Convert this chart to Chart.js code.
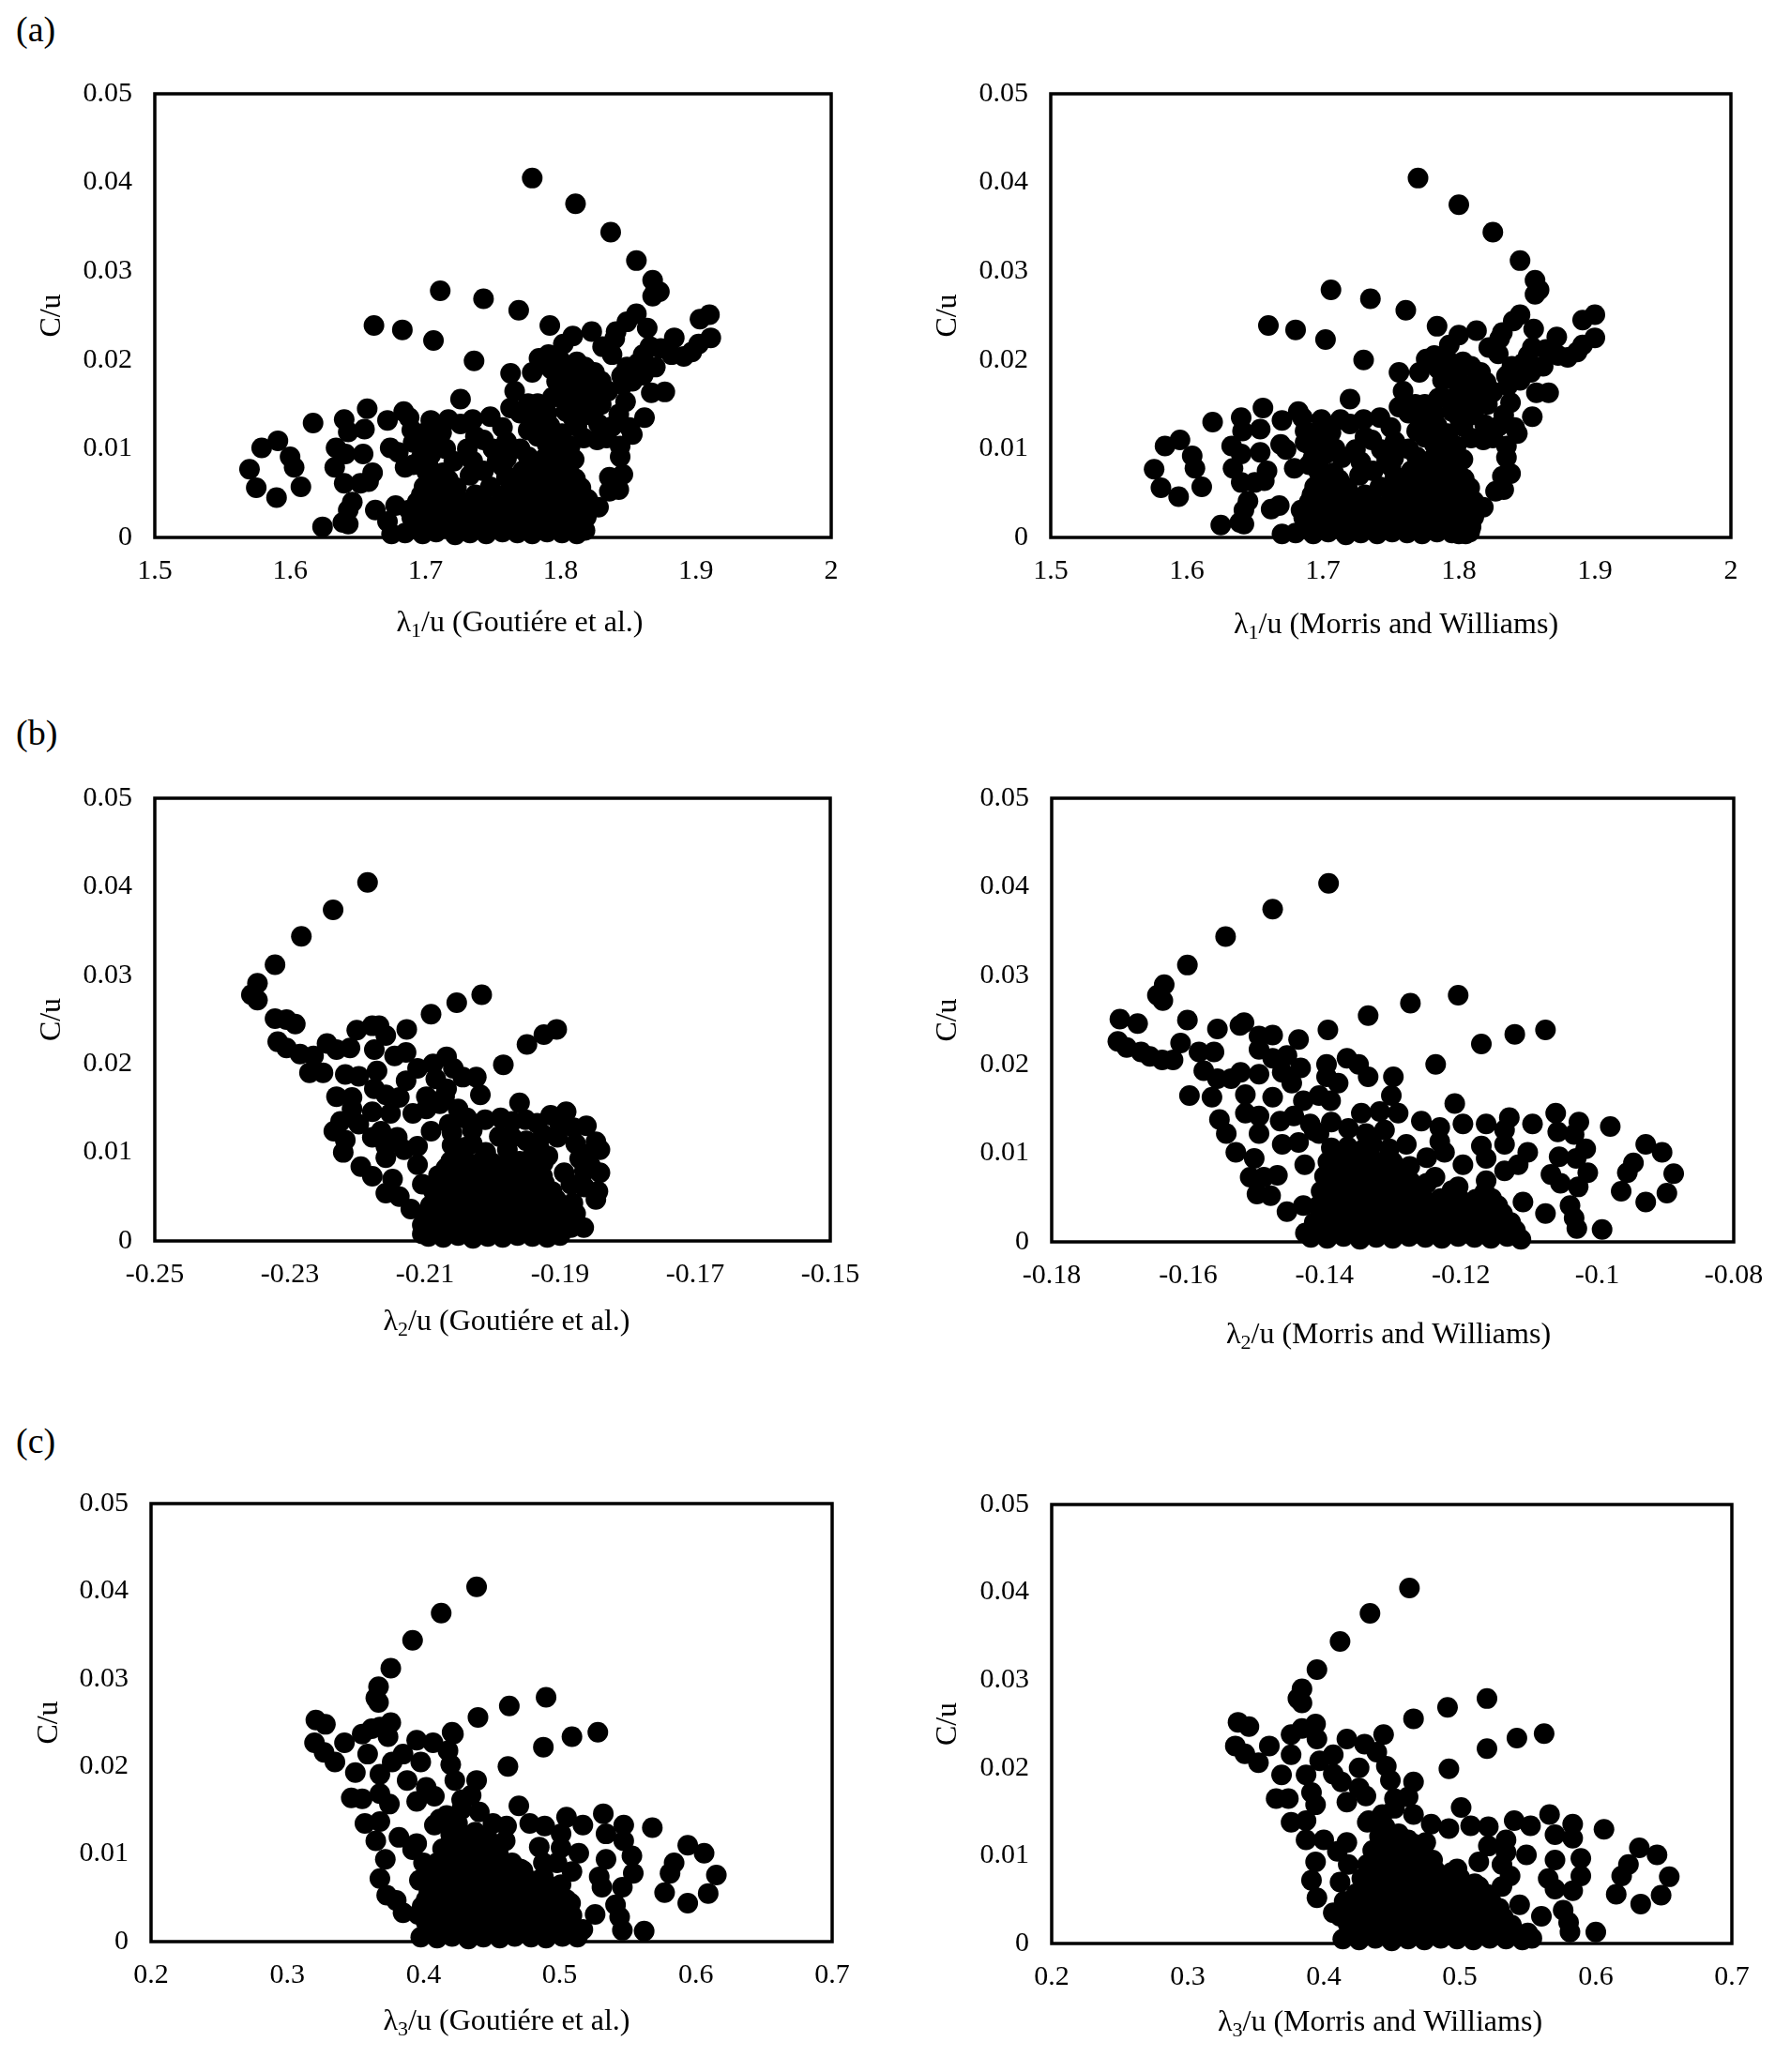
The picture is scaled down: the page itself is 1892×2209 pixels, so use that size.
<!DOCTYPE html>
<html>
<head>
<meta charset="utf-8">
<script src="https://cdn.jsdelivr.net/npm/chart.js@4.4.1/dist/chart.umd.min.js"></script>
<style>
  body { margin: 0; background: #fff; }
  #page { position: relative; width: 1892px; height: 2209px; background: #fff; overflow: hidden;
          font-family: "Liberation Serif", "Times New Roman", serif; }
  .panel-label { position: absolute; left: 17px; font-size: 38px; line-height: 38px; color: #000; }
  canvas { position: absolute; }
</style>
</head>
<body>
<div id="page">
  <div class="panel-label" style="top:12px;">(a)</div>
  <div class="panel-label" style="top:762px;">(b)</div>
  <div class="panel-label" style="top:1517px;">(c)</div>
  <canvas id="chartA1"></canvas>
  <canvas id="chartA2"></canvas>
  <canvas id="chartB1"></canvas>
  <canvas id="chartB2"></canvas>
  <canvas id="chartC1"></canvas>
  <canvas id="chartC2"></canvas>
</div>
<script>
// tick values and labels
var yTicks = [0, 0.01, 0.02, 0.03, 0.04, 0.05];
var yTickLabels = ['0', '0.01', '0.02', '0.03', '0.04', '0.05'];
var xTicksL1 = [1.5, 1.6, 1.7, 1.8, 1.9, 2];
var xTickLabelsL1 = ['1.5', '1.6', '1.7', '1.8', '1.9', '2'];
var xTicksL2Goutiere = [-0.25, -0.23, -0.21, -0.19, -0.17, -0.15];
var xTickLabelsL2Goutiere = ['-0.25', '-0.23', '-0.21', '-0.19', '-0.17', '-0.15'];
var xTicksL2Morris = [-0.18, -0.16, -0.14, -0.12, -0.1, -0.08];
var xTickLabelsL2Morris = ['-0.18', '-0.16', '-0.14', '-0.12', '-0.1', '-0.08'];
var xTicksL3 = [0.2, 0.3, 0.4, 0.5, 0.6, 0.7];
var xTickLabelsL3 = ['0.2', '0.3', '0.4', '0.5', '0.6', '0.7'];

// [lambda/u, C/u]
var goutiereL1 = [
  [1.779,0.0405],[1.811,0.0376],[1.837,0.0344],[1.856,0.0312],[1.868,0.0290],[1.870,0.0278],[1.868,0.0272],[1.873,0.0277],
  [1.711,0.0278],[1.743,0.0269],[1.769,0.0256],[1.792,0.0239],[1.662,0.0239],[1.683,0.0234],[1.706,0.0222],[1.736,0.0199],
  [1.726,0.0156],[1.763,0.0185],[1.779,0.0186],[1.766,0.0165],
  [1.856,0.0252],[1.849,0.0243],[1.864,0.0236],[1.903,0.0246],[1.910,0.0251],[1.911,0.0225],[1.902,0.0218],[1.897,0.0209],
  [1.891,0.0204],[1.884,0.0225],[1.882,0.0206],[1.874,0.0213],[1.866,0.0215],[1.861,0.0206],
  [1.802,0.0218],[1.809,0.0227],[1.823,0.0232],[1.841,0.0232],[1.831,0.0215],[1.838,0.0206],[1.791,0.0206],[1.784,0.0202],
  [1.800,0.0199],[1.818,0.0192],[1.825,0.0186],[1.822,0.0176],[1.830,0.0176],[1.849,0.0192],[1.870,0.0192],[1.861,0.0183],
  [1.853,0.0176],[1.797,0.0176],[1.801,0.0186],[1.805,0.0170],[1.835,0.0165],[1.846,0.0172],[1.867,0.0163],[1.877,0.0164],
  [1.848,0.0153],[1.843,0.0139],[1.851,0.0124],[1.853,0.0116],[1.844,0.0103],[1.844,0.0091],[1.862,0.0135],
  [1.763,0.0146],[1.776,0.0151],[1.783,0.0151],[1.794,0.0158],[1.802,0.0156],[1.804,0.0142],[1.809,0.0135],[1.822,0.0146],
  [1.828,0.0128],[1.827,0.0110],[1.817,0.0112],[1.779,0.0132],[1.776,0.0121],[1.783,0.0114],[1.792,0.0126],[1.801,0.0117],
  [1.807,0.0103],[1.799,0.0096],
  [1.790,0.0105],[1.800,0.0112],[1.812,0.0125],[1.818,0.0138],[1.823,0.0160],[1.812,0.0168],[1.815,0.0152],[1.830,0.0150],
  [1.838,0.0125],[1.834,0.0112],[1.790,0.0140],[1.770,0.0140],[1.760,0.0108],[1.770,0.0100],[1.812,0.0198],[1.793,0.0190],
  [1.808,0.0182],[1.845,0.0182],[1.857,0.0196],[1.840,0.0224],
  [1.617,0.0129],[1.640,0.0133],[1.643,0.0119],[1.657,0.0145],[1.655,0.0122],[1.672,0.0132],[1.684,0.0142],[1.688,0.0135],
  [1.690,0.0121],[1.691,0.0107],[1.704,0.0132],[1.717,0.0133],[1.726,0.0128],[1.735,0.0133],[1.737,0.0114],[1.748,0.0136],
  [1.757,0.0124],[1.731,0.0100],[1.735,0.0086],[1.750,0.0100],[1.753,0.0086],[1.760,0.0089],[1.709,0.0107],[1.704,0.0093],
  [1.721,0.0086],[1.691,0.0082],[1.685,0.0079],[1.680,0.0096],[1.674,0.0101],
  [1.695,0.0105],[1.715,0.0100],[1.712,0.0118],[1.700,0.0118],[1.743,0.0110],[1.757,0.0080],[1.743,0.0075],[1.733,0.0070],[1.760,0.0068],
  [1.579,0.0101],[1.591,0.0109],[1.600,0.0091],[1.603,0.0079],[1.608,0.0057],[1.590,0.0045],[1.575,0.0056],[1.570,0.0077],
  [1.634,0.0101],[1.641,0.0094],[1.633,0.0079],[1.654,0.0094],[1.661,0.0073],[1.658,0.0063],[1.652,0.0061],[1.640,0.0061],
  [1.646,0.0040],[1.643,0.0031],[1.643,0.0015],[1.639,0.0017],[1.624,0.0012],[1.663,0.0031],
  [1.685,0.0005],[1.698,0.0004],[1.708,0.0006],[1.722,0.0003],[1.733,0.0005],[1.745,0.0004],[1.757,0.0006],[1.768,0.0005],
  [1.779,0.0004],[1.790,0.0006],[1.801,0.0005],[1.812,0.0004],
  [1.692,0.0013],[1.703,0.0013],[1.715,0.0012],[1.728,0.0014],[1.739,0.0013],[1.751,0.0012],[1.762,0.0014],[1.773,0.0013],
  [1.785,0.0012],[1.796,0.0014],[1.807,0.0013],[1.816,0.0012],
  [1.690,0.0022],[1.703,0.0021],[1.714,0.0023],[1.727,0.0022],[1.739,0.0020],[1.751,0.0023],[1.762,0.0022],[1.774,0.0021],
  [1.786,0.0023],[1.797,0.0022],[1.808,0.0021],[1.819,0.0023],
  [1.688,0.0031],[1.700,0.0030],[1.711,0.0032],[1.724,0.0031],[1.737,0.0030],[1.750,0.0032],[1.760,0.0031],[1.772,0.0030],
  [1.783,0.0032],[1.795,0.0031],[1.806,0.0030],[1.816,0.0032],
  [1.694,0.0040],[1.706,0.0039],[1.717,0.0041],[1.731,0.0040],[1.744,0.0038],[1.756,0.0041],[1.766,0.0040],[1.778,0.0039],
  [1.789,0.0041],[1.800,0.0040],[1.811,0.0039],
  [1.697,0.0048],[1.709,0.0049],[1.720,0.0047],[1.737,0.0048],[1.760,0.0049],[1.772,0.0047],[1.784,0.0048],[1.795,0.0049],
  [1.806,0.0047],[1.814,0.0048],
  [1.699,0.0057],[1.711,0.0058],[1.723,0.0056],[1.748,0.0057],[1.769,0.0058],[1.781,0.0056],[1.793,0.0057],[1.804,0.0058],[1.815,0.0056],
  [1.705,0.0066],[1.717,0.0065],[1.766,0.0067],[1.778,0.0066],[1.790,0.0065],[1.801,0.0067],[1.811,0.0066],
  [1.701,0.0074],[1.713,0.0073],[1.772,0.0075],[1.784,0.0074],[1.795,0.0073],[1.806,0.0075],
  [1.702,0.0082],[1.780,0.0083],[1.793,0.0081],[1.804,0.0082],
  [1.697,0.0090],[1.776,0.0091],[1.788,0.0089],[1.799,0.0090],[1.810,0.0088],
  [1.675,0.0004],[1.678,0.0036],[1.672,0.0018],[1.836,0.0068],[1.846,0.0071],[1.836,0.0052],[1.843,0.0054],[1.828,0.0034],
  [1.820,0.0043],[1.818,0.0008]
];

var morrisL1 = [
  [1.770,0.0405],[1.800,0.0375],[1.825,0.0344],[1.845,0.0312],[1.856,0.0290],[1.859,0.0279],[1.856,0.0274],
  [1.706,0.0279],[1.735,0.0269],[1.761,0.0256],[1.784,0.0238],[1.660,0.0239],[1.680,0.0234],[1.702,0.0223],[1.730,0.0200],
  [1.720,0.0156],[1.756,0.0186],[1.771,0.0186],[1.759,0.0165],
  [1.845,0.0251],[1.840,0.0244],[1.855,0.0235],[1.891,0.0245],[1.900,0.0251],[1.900,0.0225],[1.891,0.0217],[1.887,0.0209],
  [1.880,0.0203],[1.872,0.0226],[1.873,0.0205],[1.864,0.0212],[1.854,0.0214],[1.851,0.0205],
  [1.793,0.0217],[1.800,0.0228],[1.813,0.0233],[1.832,0.0231],[1.822,0.0214],[1.829,0.0207],[1.782,0.0205],[1.776,0.0201],
  [1.793,0.0198],[1.809,0.0193],[1.816,0.0186],[1.812,0.0175],[1.820,0.0175],[1.839,0.0193],[1.862,0.0193],[1.853,0.0186],
  [1.845,0.0177],[1.788,0.0177],[1.792,0.0187],[1.800,0.0170],[1.825,0.0164],[1.836,0.0171],[1.857,0.0163],[1.866,0.0163],
  [1.838,0.0152],[1.833,0.0138],[1.841,0.0124],[1.843,0.0117],[1.835,0.0103],[1.835,0.0090],[1.854,0.0136],
  [1.756,0.0147],[1.768,0.0150],[1.775,0.0150],[1.785,0.0157],[1.793,0.0156],[1.795,0.0142],[1.800,0.0135],[1.812,0.0145],
  [1.819,0.0127],[1.818,0.0110],[1.809,0.0112],[1.772,0.0133],[1.769,0.0120],[1.775,0.0113],[1.784,0.0126],[1.792,0.0117],
  [1.798,0.0103],[1.790,0.0096],
  [1.782,0.0105],[1.792,0.0112],[1.803,0.0125],[1.809,0.0138],[1.814,0.0160],[1.803,0.0168],[1.806,0.0152],[1.821,0.0150],
  [1.829,0.0125],[1.825,0.0112],[1.782,0.0140],[1.763,0.0140],[1.753,0.0108],[1.763,0.0100],[1.803,0.0198],[1.785,0.0190],
  [1.799,0.0182],[1.835,0.0182],[1.847,0.0196],[1.830,0.0224],
  [1.619,0.0130],[1.640,0.0135],[1.641,0.0120],[1.656,0.0146],[1.654,0.0122],[1.670,0.0132],[1.682,0.0142],[1.685,0.0135],
  [1.687,0.0120],[1.687,0.0107],[1.699,0.0133],[1.713,0.0133],[1.720,0.0128],[1.730,0.0133],[1.731,0.0113],[1.742,0.0135],
  [1.750,0.0124],[1.724,0.0099],[1.728,0.0085],[1.743,0.0099],[1.747,0.0087],[1.752,0.0089],[1.703,0.0108],[1.702,0.0094],
  [1.714,0.0090],[1.690,0.0082],[1.679,0.0078],[1.673,0.0099],[1.669,0.0105],
  [1.690,0.0105],[1.709,0.0100],[1.706,0.0118],[1.695,0.0118],[1.736,0.0110],[1.750,0.0080],[1.737,0.0075],[1.727,0.0070],[1.753,0.0068],
  [1.584,0.0103],[1.595,0.0110],[1.604,0.0092],[1.606,0.0078],[1.611,0.0057],[1.594,0.0046],[1.581,0.0056],[1.576,0.0077],
  [1.633,0.0103],[1.640,0.0094],[1.634,0.0078],[1.654,0.0096],[1.659,0.0075],[1.657,0.0064],[1.650,0.0062],[1.640,0.0062],
  [1.645,0.0041],[1.642,0.0031],[1.642,0.0015],[1.639,0.0017],[1.625,0.0014],[1.662,0.0032],
  [1.680,0.0005],[1.693,0.0004],[1.704,0.0006],[1.717,0.0003],[1.728,0.0005],[1.740,0.0004],[1.751,0.0006],[1.762,0.0005],
  [1.773,0.0004],[1.784,0.0006],[1.795,0.0005],[1.805,0.0004],
  [1.687,0.0013],[1.698,0.0013],[1.710,0.0012],[1.722,0.0014],[1.734,0.0013],[1.745,0.0012],[1.756,0.0014],[1.767,0.0013],
  [1.778,0.0012],[1.789,0.0014],[1.800,0.0013],[1.809,0.0012],
  [1.686,0.0022],[1.698,0.0021],[1.709,0.0023],[1.721,0.0022],[1.733,0.0020],[1.745,0.0023],[1.756,0.0022],[1.767,0.0021],
  [1.778,0.0023],[1.789,0.0022],[1.800,0.0021],[1.811,0.0023],
  [1.684,0.0031],[1.695,0.0030],[1.706,0.0032],[1.719,0.0031],[1.731,0.0030],[1.744,0.0032],[1.755,0.0031],[1.766,0.0030],
  [1.777,0.0032],[1.788,0.0031],[1.799,0.0030],[1.809,0.0032],
  [1.690,0.0040],[1.701,0.0039],[1.712,0.0041],[1.725,0.0040],[1.738,0.0038],[1.750,0.0041],[1.760,0.0040],[1.771,0.0039],
  [1.782,0.0041],[1.793,0.0040],[1.804,0.0039],
  [1.692,0.0048],[1.704,0.0049],[1.715,0.0047],[1.731,0.0048],[1.752,0.0049],[1.764,0.0047],[1.776,0.0048],[1.787,0.0049],
  [1.798,0.0047],[1.806,0.0048],
  [1.694,0.0057],[1.706,0.0058],[1.718,0.0056],[1.742,0.0057],[1.762,0.0058],[1.774,0.0056],[1.786,0.0057],[1.797,0.0058],[1.808,0.0056],
  [1.700,0.0066],[1.712,0.0065],[1.759,0.0067],[1.771,0.0066],[1.783,0.0065],[1.794,0.0067],[1.804,0.0066],
  [1.697,0.0074],[1.708,0.0073],[1.765,0.0075],[1.777,0.0074],[1.788,0.0073],[1.799,0.0075],
  [1.697,0.0082],[1.773,0.0083],[1.786,0.0081],[1.797,0.0082],
  [1.693,0.0090],[1.769,0.0091],[1.781,0.0089],[1.792,0.0090],[1.803,0.0088],
  [1.670,0.0004],[1.668,0.0036],[1.832,0.0069],[1.838,0.0072],[1.827,0.0052],[1.833,0.0054],[1.818,0.0034],[1.811,0.0041],
  [1.808,0.0006],[1.800,0.0004]
];

var goutiereL2 = [
  [-0.2185,0.0405],[-0.2236,0.0374],[-0.2283,0.0344],[-0.2322,0.0312],[-0.2348,0.0291],[-0.2357,0.0278],[-0.2348,0.0272],
  [-0.2016,0.0278],[-0.2053,0.0269],[-0.2091,0.0256],[-0.2127,0.0239],[-0.1905,0.0239],[-0.1924,0.0233],[-0.1949,0.0222],
  [-0.1984,0.0199],[-0.1960,0.0156],
  [-0.2322,0.0251],[-0.2305,0.0250],[-0.2292,0.0245],[-0.2318,0.0225],[-0.2305,0.0218],[-0.2285,0.0211],[-0.2265,0.0209],
  [-0.2245,0.0223],[-0.2231,0.0216],[-0.2211,0.0218],[-0.2201,0.0238],[-0.2178,0.0243],[-0.2168,0.0243],[-0.2158,0.0232],
  [-0.2175,0.0216],[-0.2145,0.0209],[-0.2128,0.0213],[-0.2271,0.0190],[-0.2251,0.0190],[-0.2218,0.0188],[-0.2198,0.0186],
  [-0.2171,0.0192],[-0.2111,0.0195],[-0.2088,0.0200],[-0.2068,0.0208],[-0.2058,0.0195],[-0.2044,0.0185],[-0.2024,0.0185],
  [-0.2128,0.0181],[-0.2084,0.0183],[-0.2068,0.0172],
  [-0.2231,0.0163],[-0.2208,0.0162],[-0.2175,0.0172],[-0.2158,0.0165],[-0.2138,0.0162],[-0.2098,0.0163],[-0.2071,0.0163],
  [-0.2018,0.0165],[-0.2208,0.0149],[-0.2178,0.0146],[-0.2151,0.0144],[-0.2118,0.0144],[-0.2098,0.0149],[-0.2078,0.0155],
  [-0.2051,0.0149],[-0.2038,0.0139],[-0.2011,0.0137],[-0.2225,0.0135],[-0.2198,0.0132],[-0.2235,0.0124],[-0.2218,0.0114],
  [-0.2221,0.0100],[-0.2178,0.0117],[-0.2165,0.0124],[-0.2141,0.0117],[-0.2158,0.0107],[-0.2131,0.0103],[-0.2111,0.0107],
  [-0.2091,0.0124],[-0.2064,0.0132],[-0.2044,0.0139],
  [-0.1988,0.0139],[-0.1971,0.0135],[-0.1951,0.0137],[-0.1934,0.0133],[-0.1914,0.0142],[-0.1891,0.0146],[-0.1861,0.0130],
  [-0.1847,0.0112],[-0.1841,0.0103],[-0.1841,0.0077],[-0.1844,0.0056],[-0.1847,0.0047],[-0.1864,0.0061],[-0.1881,0.0043],
  [-0.1877,0.0031],[-0.1865,0.0015],[-0.1884,0.0015],[-0.1894,0.0077],[-0.1884,0.0064],[-0.1904,0.0117],[-0.1877,0.0110],
  [-0.1931,0.0105],[-0.1944,0.0093],[-0.1918,0.0096],[-0.1871,0.0093],[-0.1864,0.0079],[-0.1971,0.0117],[-0.1978,0.0103],
  [-0.2050,0.0100],[-0.2030,0.0110],[-0.2010,0.0100],[-0.2060,0.0122],[-0.2030,0.0125],[-0.1990,0.0118],[-0.1950,0.0113],
  [-0.1925,0.0120],[-0.1900,0.0130],[-0.1880,0.0128],[-0.1860,0.0098],[-0.1855,0.0085],[-0.2000,0.0088],[-0.1975,0.0090],
  [-0.1925,0.0088],
  [-0.2195,0.0084],[-0.2178,0.0073],[-0.2158,0.0094],[-0.2148,0.0070],[-0.2158,0.0054],[-0.2138,0.0050],[-0.2121,0.0036],
  [-0.2111,0.0086],[-0.2104,0.0064],[-0.2104,0.0018],[-0.2104,0.0008],
  [-0.2095,0.0005],[-0.2073,0.0004],[-0.2051,0.0006],[-0.2029,0.0003],[-0.2007,0.0005],[-0.1985,0.0004],[-0.1963,0.0006],
  [-0.1941,0.0005],[-0.1919,0.0004],[-0.1900,0.0006],
  [-0.2090,0.0013],[-0.2068,0.0014],[-0.2046,0.0012],[-0.2024,0.0013],[-0.2002,0.0014],[-0.1980,0.0012],[-0.1958,0.0013],
  [-0.1936,0.0014],[-0.1914,0.0012],
  [-0.2100,0.0022],[-0.2078,0.0021],[-0.2056,0.0023],[-0.2034,0.0022],[-0.2012,0.0020],[-0.1990,0.0023],[-0.1968,0.0022],
  [-0.1946,0.0021],[-0.1924,0.0023],[-0.1905,0.0022],
  [-0.2096,0.0031],[-0.2074,0.0030],[-0.2052,0.0032],[-0.2030,0.0031],[-0.2008,0.0030],[-0.1986,0.0032],[-0.1964,0.0031],
  [-0.1942,0.0030],[-0.1920,0.0032],[-0.1900,0.0031],
  [-0.2092,0.0040],[-0.2070,0.0039],[-0.2048,0.0041],[-0.2026,0.0040],[-0.2004,0.0038],[-0.1982,0.0041],[-0.1960,0.0040],
  [-0.1938,0.0039],[-0.1916,0.0041],
  [-0.2081,0.0048],[-0.2059,0.0049],[-0.2037,0.0047],[-0.2015,0.0048],[-0.1993,0.0049],[-0.1971,0.0047],[-0.1949,0.0048],
  [-0.1927,0.0049],[-0.1906,0.0047],
  [-0.2088,0.0057],[-0.2066,0.0058],[-0.2044,0.0056],[-0.2022,0.0057],[-0.2000,0.0058],[-0.1978,0.0056],[-0.1956,0.0057],
  [-0.1934,0.0058],[-0.1912,0.0056],
  [-0.2077,0.0066],[-0.2055,0.0065],[-0.2033,0.0067],[-0.2011,0.0066],[-0.1989,0.0065],[-0.1967,0.0067],[-0.1945,0.0066],[-0.1923,0.0065],
  [-0.2080,0.0074],[-0.2058,0.0073],[-0.2036,0.0075],[-0.2014,0.0074],[-0.1992,0.0073],[-0.1970,0.0075],[-0.1948,0.0074],[-0.1926,0.0073],
  [-0.2069,0.0082],[-0.2047,0.0083],[-0.2025,0.0081],[-0.2003,0.0082],[-0.1981,0.0083],[-0.1959,0.0081],[-0.1937,0.0082],
  [-0.2062,0.0090],[-0.2040,0.0091],[-0.2018,0.0089],[-0.1960,0.0090],[-0.1938,0.0088],
  [-0.2060,0.0108],[-0.2040,0.0106]
];

var morrisL2 = [
  [-0.1394,0.0404],[-0.1476,0.0375],[-0.1545,0.0344],[-0.1601,0.0312],[-0.1635,0.0290],[-0.1645,0.0278],[-0.1637,0.0272],
  [-0.1204,0.0278],[-0.1274,0.0269],[-0.1336,0.0255],[-0.1395,0.0239],[-0.1076,0.0239],[-0.1121,0.0234],[-0.1170,0.0223],
  [-0.1237,0.0200],[-0.1209,0.0156],
  [-0.1700,0.0251],[-0.1674,0.0246],[-0.1601,0.0250],[-0.1557,0.0240],[-0.1524,0.0244],[-0.1518,0.0247],[-0.1703,0.0226],
  [-0.1690,0.0219],[-0.1669,0.0214],[-0.1656,0.0209],[-0.1638,0.0205],[-0.1622,0.0205],[-0.1611,0.0224],[-0.1584,0.0214],
  [-0.1562,0.0214],[-0.1496,0.0232],[-0.1476,0.0233],[-0.1438,0.0228],[-0.1496,0.0217],[-0.1476,0.0207],[-0.1455,0.0210],
  [-0.1435,0.0196],[-0.1577,0.0193],[-0.1557,0.0184],[-0.1537,0.0184],[-0.1523,0.0191],[-0.1496,0.0189],[-0.1462,0.0191],
  [-0.1397,0.0200],[-0.1367,0.0207],[-0.1350,0.0200],[-0.1397,0.0186],[-0.1380,0.0179],[-0.1336,0.0186],[-0.1299,0.0186],
  [-0.1448,0.0179],
  [-0.1598,0.0165],[-0.1565,0.0163],[-0.1516,0.0166],[-0.1476,0.0163],[-0.1431,0.0159],[-0.1408,0.0165],[-0.1391,0.0159],
  [-0.1302,0.0165],[-0.1554,0.0138],[-0.1544,0.0122],[-0.1530,0.0101],[-0.1516,0.0145],[-0.1496,0.0142],[-0.1465,0.0136],
  [-0.1445,0.0142],[-0.1421,0.0133],[-0.1408,0.0122],[-0.1496,0.0122],[-0.1462,0.0110],[-0.1438,0.0112],[-0.1346,0.0145],
  [-0.1319,0.0147],[-0.1292,0.0145],[-0.1339,0.0122],[-0.1312,0.0126],[-0.1258,0.0136],[-0.1231,0.0129],[-0.1197,0.0133],
  [-0.1163,0.0133],[-0.1129,0.0140],[-0.1095,0.0133],[-0.1061,0.0145],[-0.1027,0.0135],[-0.0981,0.0130],[-0.1136,0.0126],
  [-0.1058,0.0124],[-0.1034,0.0121],[-0.1136,0.0110],[-0.1170,0.0108],[-0.1231,0.0113],[-0.1102,0.0101],[-0.1017,0.0105],
  [-0.1056,0.0096],[-0.1031,0.0094],[-0.1014,0.0078],[-0.1068,0.0076],[-0.1054,0.0066],[-0.1028,0.0062],[-0.0929,0.0110],
  [-0.0905,0.0101],[-0.0947,0.0089],[-0.0956,0.0078],[-0.0888,0.0077],[-0.0898,0.0055],[-0.0929,0.0045],[-0.0965,0.0057],
  [-0.1040,0.0041],[-0.1034,0.0027],[-0.1030,0.0015],[-0.0993,0.0014],[-0.1076,0.0032],[-0.1109,0.0045],[-0.1136,0.0080],
  [-0.1197,0.0087],[-0.1224,0.0101],[-0.1238,0.0073],[-0.1163,0.0094],[-0.1116,0.0087],[-0.1204,0.0062],[-0.1163,0.0069],
  [-0.1300,0.0090],[-0.1275,0.0085],[-0.1250,0.0095],[-0.1330,0.0110],[-0.1305,0.0105],[-0.1280,0.0110],[-0.1415,0.0125],
  [-0.1390,0.0135],[-0.1365,0.0128],
  [-0.1503,0.0094],[-0.1509,0.0073],[-0.1489,0.0073],[-0.1469,0.0075],[-0.1499,0.0054],[-0.1479,0.0052],[-0.1455,0.0034],
  [-0.1431,0.0041],[-0.1429,0.0087],[-0.1428,0.0010],
  [-0.1420,0.0005],[-0.1396,0.0004],[-0.1372,0.0006],[-0.1348,0.0003],[-0.1324,0.0005],[-0.1300,0.0004],[-0.1276,0.0006],
  [-0.1252,0.0005],[-0.1228,0.0004],[-0.1204,0.0006],[-0.1180,0.0005],[-0.1156,0.0004],[-0.1132,0.0006],[-0.1112,0.0003],
  [-0.1408,0.0013],[-0.1384,0.0014],[-0.1360,0.0012],[-0.1336,0.0013],[-0.1312,0.0014],[-0.1288,0.0012],[-0.1264,0.0013],
  [-0.1240,0.0014],[-0.1216,0.0012],[-0.1192,0.0013],[-0.1168,0.0014],[-0.1144,0.0012],[-0.1120,0.0013],
  [-0.1415,0.0022],[-0.1391,0.0021],[-0.1367,0.0023],[-0.1343,0.0022],[-0.1319,0.0020],[-0.1295,0.0023],[-0.1271,0.0022],
  [-0.1247,0.0021],[-0.1223,0.0023],[-0.1199,0.0022],[-0.1175,0.0021],[-0.1151,0.0023],[-0.1127,0.0022],
  [-0.1403,0.0031],[-0.1379,0.0030],[-0.1355,0.0032],[-0.1331,0.0031],[-0.1307,0.0030],[-0.1283,0.0032],[-0.1259,0.0031],
  [-0.1235,0.0030],[-0.1211,0.0032],[-0.1187,0.0031],[-0.1163,0.0030],[-0.1139,0.0032],
  [-0.1410,0.0040],[-0.1386,0.0039],[-0.1362,0.0041],[-0.1338,0.0040],[-0.1314,0.0038],[-0.1290,0.0041],[-0.1266,0.0040],
  [-0.1242,0.0039],[-0.1218,0.0041],[-0.1194,0.0040],[-0.1170,0.0039],[-0.1146,0.0041],
  [-0.1398,0.0048],[-0.1374,0.0049],[-0.1350,0.0047],[-0.1326,0.0048],[-0.1302,0.0049],[-0.1278,0.0047],[-0.1254,0.0048],
  [-0.1230,0.0049],[-0.1200,0.0047],[-0.1178,0.0048],[-0.1155,0.0049],
  [-0.1405,0.0057],[-0.1381,0.0058],[-0.1357,0.0056],[-0.1333,0.0057],[-0.1309,0.0058],[-0.1285,0.0056],[-0.1261,0.0057],
  [-0.1213,0.0058],[-0.1165,0.0056],
  [-0.1393,0.0066],[-0.1369,0.0065],[-0.1345,0.0067],[-0.1321,0.0066],[-0.1297,0.0065],[-0.1273,0.0067],[-0.1250,0.0066],
  [-0.1400,0.0074],[-0.1376,0.0073],[-0.1352,0.0075],[-0.1328,0.0074],[-0.1304,0.0073],[-0.1280,0.0075],
  [-0.1388,0.0082],[-0.1364,0.0083],[-0.1340,0.0081],[-0.1316,0.0082],[-0.1292,0.0083],
  [-0.1395,0.0090],[-0.1371,0.0091],[-0.1347,0.0089],[-0.1323,0.0090],
  [-0.1383,0.0098],[-0.1359,0.0099],[-0.1335,0.0097],
  [-0.1390,0.0106],[-0.1366,0.0107],[-0.1342,0.0105]
];

var goutiereL3 = [
  [0.439,0.0405],[0.413,0.0375],[0.392,0.0344],[0.376,0.0312],[0.367,0.0291],[0.365,0.0278],[0.367,0.0273],
  [0.490,0.0279],[0.463,0.0269],[0.440,0.0256],[0.421,0.0239],[0.528,0.0239],[0.509,0.0234],[0.488,0.0222],[0.462,0.0200],
  [0.470,0.0155],
  [0.321,0.0253],[0.328,0.0248],[0.320,0.0227],[0.327,0.0216],[0.335,0.0205],[0.342,0.0227],[0.355,0.0237],[0.362,0.0243],
  [0.368,0.0245],[0.376,0.0250],[0.374,0.0234],[0.350,0.0193],[0.359,0.0214],[0.368,0.0191],[0.377,0.0205],[0.385,0.0214],
  [0.395,0.0230],[0.407,0.0227],[0.418,0.0218],[0.422,0.0237],[0.398,0.0205],[0.420,0.0202],[0.423,0.0184],[0.439,0.0184],
  [0.388,0.0184],[0.402,0.0176],[0.347,0.0164],[0.355,0.0163],[0.368,0.0169],[0.375,0.0157],[0.395,0.0160],[0.408,0.0166],
  [0.428,0.0162],[0.435,0.0167],
  [0.357,0.0135],[0.368,0.0137],[0.365,0.0115],[0.372,0.0094],[0.368,0.0072],[0.373,0.0053],[0.380,0.0047],[0.385,0.0033],
  [0.382,0.0119],[0.395,0.0112],[0.408,0.0133],[0.417,0.0144],[0.428,0.0151],[0.441,0.0148],[0.451,0.0135],[0.461,0.0132],
  [0.478,0.0135],[0.489,0.0132],[0.505,0.0142],[0.517,0.0133],[0.532,0.0146],[0.547,0.0133],[0.568,0.0130],[0.534,0.0123],
  [0.547,0.0115],[0.501,0.0123],[0.501,0.0107],[0.514,0.0101],[0.534,0.0094],[0.553,0.0098],[0.554,0.0078],[0.529,0.0074],
  [0.531,0.0062],[0.546,0.0062],[0.594,0.0110],[0.606,0.0101],[0.584,0.0090],[0.581,0.0078],[0.615,0.0076],[0.609,0.0055],
  [0.594,0.0044],[0.577,0.0056],[0.541,0.0042],[0.544,0.0028],[0.546,0.0013],[0.562,0.0012],[0.526,0.0031],[0.508,0.0044],
  [0.485,0.0108],[0.488,0.0090],[0.471,0.0083],[0.498,0.0090],[0.509,0.0080],[0.481,0.0069],[0.501,0.0065],
  [0.412,0.0140],[0.425,0.0135],[0.438,0.0125],[0.447,0.0118],[0.455,0.0100],[0.465,0.0090],[0.460,0.0115],[0.400,0.0090],
  [0.397,0.0070],[0.392,0.0105],
  [0.398,0.0005],[0.410,0.0004],[0.421,0.0006],[0.433,0.0003],[0.444,0.0005],[0.456,0.0004],[0.467,0.0006],[0.479,0.0005],
  [0.490,0.0004],[0.502,0.0006],[0.513,0.0005],
  [0.404,0.0013],[0.416,0.0014],[0.427,0.0012],[0.439,0.0013],[0.450,0.0014],[0.462,0.0012],[0.473,0.0013],[0.485,0.0014],
  [0.496,0.0012],[0.508,0.0013],[0.517,0.0014],
  [0.402,0.0022],[0.413,0.0021],[0.425,0.0023],[0.436,0.0022],[0.448,0.0020],[0.459,0.0023],[0.471,0.0022],[0.482,0.0021],
  [0.494,0.0023],[0.505,0.0022],
  [0.396,0.0031],[0.405,0.0030],[0.417,0.0032],[0.428,0.0031],[0.440,0.0030],[0.451,0.0032],[0.463,0.0031],[0.474,0.0030],
  [0.486,0.0032],[0.497,0.0031],[0.509,0.0030],
  [0.399,0.0040],[0.411,0.0039],[0.422,0.0041],[0.434,0.0040],[0.445,0.0038],[0.457,0.0041],[0.468,0.0040],[0.480,0.0039],
  [0.491,0.0041],[0.503,0.0040],
  [0.402,0.0048],[0.414,0.0049],[0.425,0.0047],[0.437,0.0048],[0.448,0.0049],[0.460,0.0047],[0.471,0.0048],[0.483,0.0049],
  [0.494,0.0047],[0.505,0.0048],
  [0.404,0.0057],[0.416,0.0058],[0.427,0.0056],[0.439,0.0057],[0.450,0.0058],[0.462,0.0056],[0.473,0.0057],[0.485,0.0058],[0.496,0.0056],
  [0.410,0.0066],[0.422,0.0065],[0.433,0.0067],[0.445,0.0066],[0.456,0.0065],[0.468,0.0067],[0.479,0.0066],[0.491,0.0065],
  [0.407,0.0074],[0.419,0.0073],[0.430,0.0075],[0.442,0.0074],[0.453,0.0073],[0.465,0.0075],[0.488,0.0074],
  [0.413,0.0082],[0.425,0.0083],[0.437,0.0081],[0.449,0.0082],[0.461,0.0083],[0.473,0.0081],
  [0.410,0.0090],[0.422,0.0091],[0.434,0.0089],[0.446,0.0090],[0.458,0.0088],
  [0.416,0.0098],[0.428,0.0099],[0.440,0.0097],[0.452,0.0098],
  [0.414,0.0106],[0.426,0.0107],[0.438,0.0105],[0.450,0.0106],
  [0.420,0.0114],[0.432,0.0115],[0.444,0.0113],
  [0.420,0.0122],[0.432,0.0121]
];

var morrisL3 = [
  [0.463,0.0405],[0.434,0.0376],[0.412,0.0344],[0.395,0.0312],[0.384,0.0290],[0.381,0.0279],[0.384,0.0274],
  [0.520,0.0279],[0.491,0.0269],[0.466,0.0256],[0.444,0.0238],[0.562,0.0239],[0.542,0.0234],[0.520,0.0222],[0.492,0.0199],
  [0.501,0.0155],
  [0.337,0.0252],[0.345,0.0247],[0.335,0.0225],[0.342,0.0216],[0.352,0.0206],[0.360,0.0225],[0.376,0.0238],[0.384,0.0245],
  [0.394,0.0250],[0.395,0.0233],[0.369,0.0192],[0.376,0.0215],[0.387,0.0192],[0.397,0.0208],[0.407,0.0215],[0.417,0.0233],
  [0.430,0.0227],[0.439,0.0218],[0.407,0.0193],[0.426,0.0200],[0.446,0.0202],[0.449,0.0186],[0.466,0.0184],[0.413,0.0184],
  [0.426,0.0177],[0.365,0.0165],[0.374,0.0165],[0.391,0.0172],[0.394,0.0158],[0.417,0.0161],[0.431,0.0168],[0.452,0.0165],
  [0.462,0.0167],
  [0.376,0.0138],[0.387,0.0140],[0.387,0.0118],[0.394,0.0093],[0.391,0.0072],[0.395,0.0052],[0.407,0.0035],[0.400,0.0118],
  [0.417,0.0115],[0.433,0.0140],[0.443,0.0147],[0.452,0.0154],[0.466,0.0147],[0.479,0.0136],[0.492,0.0131],[0.508,0.0134],
  [0.521,0.0133],[0.540,0.0140],[0.552,0.0134],[0.566,0.0147],[0.583,0.0136],[0.606,0.0130],[0.570,0.0124],[0.583,0.0120],
  [0.534,0.0118],[0.534,0.0104],[0.549,0.0101],[0.570,0.0095],[0.589,0.0097],[0.589,0.0077],[0.565,0.0074],[0.570,0.0062],
  [0.583,0.0060],[0.632,0.0109],[0.645,0.0101],[0.624,0.0090],[0.619,0.0077],[0.654,0.0076],[0.648,0.0055],[0.633,0.0045],
  [0.615,0.0056],[0.576,0.0038],[0.580,0.0024],[0.581,0.0013],[0.600,0.0013],[0.560,0.0031],[0.544,0.0044],[0.521,0.0111],
  [0.514,0.0093],[0.498,0.0085],[0.531,0.0090],[0.537,0.0077],[0.511,0.0068],[0.531,0.0065],
  [0.432,0.0138],[0.445,0.0133],[0.455,0.0125],[0.462,0.0118],[0.470,0.0100],[0.480,0.0095],[0.475,0.0115],[0.418,0.0090],
  [0.412,0.0070],[0.410,0.0105],
  [0.414,0.0005],[0.426,0.0004],[0.438,0.0006],[0.450,0.0003],[0.462,0.0005],[0.474,0.0004],[0.486,0.0006],[0.498,0.0005],
  [0.510,0.0004],[0.522,0.0006],[0.534,0.0005],[0.546,0.0004],[0.553,0.0006],
  [0.420,0.0013],[0.432,0.0014],[0.444,0.0012],[0.456,0.0013],[0.468,0.0014],[0.480,0.0012],[0.492,0.0013],[0.504,0.0014],
  [0.516,0.0012],[0.528,0.0013],[0.540,0.0014],[0.550,0.0012],
  [0.418,0.0022],[0.430,0.0021],[0.442,0.0023],[0.454,0.0022],[0.466,0.0020],[0.478,0.0023],[0.490,0.0022],[0.502,0.0021],
  [0.514,0.0023],[0.526,0.0022],[0.538,0.0021],
  [0.412,0.0031],[0.424,0.0030],[0.436,0.0032],[0.448,0.0031],[0.460,0.0030],[0.472,0.0032],[0.484,0.0031],[0.496,0.0030],
  [0.508,0.0032],[0.520,0.0031],[0.532,0.0030],
  [0.421,0.0040],[0.433,0.0039],[0.445,0.0041],[0.457,0.0040],[0.469,0.0038],[0.481,0.0041],[0.493,0.0040],[0.505,0.0039],
  [0.517,0.0041],[0.529,0.0040],
  [0.415,0.0048],[0.427,0.0049],[0.439,0.0047],[0.451,0.0048],[0.463,0.0049],[0.475,0.0047],[0.487,0.0048],[0.499,0.0049],
  [0.511,0.0047],[0.523,0.0048],
  [0.424,0.0057],[0.436,0.0058],[0.448,0.0056],[0.460,0.0057],[0.472,0.0058],[0.484,0.0056],[0.496,0.0057],[0.508,0.0058],[0.520,0.0056],
  [0.430,0.0066],[0.442,0.0065],[0.454,0.0067],[0.466,0.0066],[0.478,0.0065],[0.490,0.0067],[0.502,0.0066],[0.514,0.0065],
  [0.428,0.0074],[0.440,0.0073],[0.452,0.0075],[0.464,0.0074],[0.476,0.0073],[0.500,0.0075],
  [0.434,0.0082],[0.446,0.0083],[0.458,0.0081],[0.470,0.0082],[0.482,0.0083],[0.494,0.0081],
  [0.432,0.0090],[0.444,0.0091],[0.456,0.0089],[0.468,0.0090],
  [0.438,0.0098],[0.450,0.0099],[0.462,0.0097],[0.474,0.0098],
  [0.436,0.0106],[0.448,0.0107],[0.460,0.0105],
  [0.443,0.0114],[0.455,0.0115],[0.467,0.0113],
  [0.441,0.0122],[0.453,0.0121]
];

var FONT = '"Liberation Serif", "Times New Roman", serif';
var TICK_SIZE = 30;
var TITLE_SIZE = 32;
var Y_AXIS_W = 160;
var X_AXIS_H = 130;
var PAD_TOP = 50;
var PAD_RIGHT = 60;

var panels = [
  { id: 'chartA1', points: goutiereL1, xTicks: xTicksL1, xLabels: xTickLabelsL1, sub: '1', source: 'Goutiére et al.',
    box: { l: 165, t: 100, r: 886, b: 573 }, yTitleX: 56, xTitleX: 554, xTitleY: 665 },
  { id: 'chartA2', points: morrisL1, xTicks: xTicksL1, xLabels: xTickLabelsL1, sub: '1', source: 'Morris and Williams',
    box: { l: 1120, t: 100, r: 1845, b: 573 }, yTitleX: 1011, xTitleX: 1488, xTitleY: 667 },
  { id: 'chartB1', points: goutiereL2, xTicks: xTicksL2Goutiere, xLabels: xTickLabelsL2Goutiere, sub: '2', source: 'Goutiére et al.',
    box: { l: 165, t: 851, r: 885, b: 1323 }, yTitleX: 56, xTitleX: 540, xTitleY: 1410 },
  { id: 'chartB2', points: morrisL2, xTicks: xTicksL2Morris, xLabels: xTickLabelsL2Morris, sub: '2', source: 'Morris and Williams',
    box: { l: 1121, t: 851, r: 1848, b: 1324 }, yTitleX: 1011, xTitleX: 1480, xTitleY: 1424 },
  { id: 'chartC1', points: goutiereL3, xTicks: xTicksL3, xLabels: xTickLabelsL3, sub: '3', source: 'Goutiére et al.',
    box: { l: 161, t: 1603, r: 887, b: 2070 }, yTitleX: 53, xTitleX: 540, xTitleY: 2156 },
  { id: 'chartC2', points: morrisL3, xTicks: xTicksL3, xLabels: xTickLabelsL3, sub: '3', source: 'Morris and Williams',
    box: { l: 1121, t: 1604, r: 1846, b: 2072 }, yTitleX: 1011, xTitleX: 1471, xTitleY: 2157 }
];

// black frame round the plot area, drawn under the points
var framePlugin = {
  id: 'panelFrame',
  beforeDatasetsDraw: function(chart) {
    var a = chart.chartArea;
    var ctx = chart.ctx;
    ctx.save();
    ctx.strokeStyle = '#000';
    ctx.lineWidth = 3.5;
    ctx.strokeRect(a.left, a.top, a.right - a.left, a.bottom - a.top);
    ctx.restore();
  }
};

// axis titles, x title with a subscript on lambda
var titlePlugin = {
  id: 'panelTitles',
  afterDraw: function(chart, args, opts) {
    var ctx = chart.ctx;
    var a = chart.chartArea;
    ctx.save();
    ctx.fillStyle = '#000';
    ctx.textBaseline = 'middle';

    ctx.font = TITLE_SIZE + 'px ' + FONT;
    ctx.save();
    ctx.translate(opts.yTitleX, (a.top + a.bottom) / 2);
    ctx.rotate(-Math.PI / 2);
    ctx.textAlign = 'center';
    ctx.fillText('C/u', 0, 0);
    ctx.restore();

    var mainFont = TITLE_SIZE + 'px ' + FONT;
    var subFont = Math.round(TITLE_SIZE * 0.68) + 'px ' + FONT;
    var head = 'λ';
    var tail = '/u (' + opts.source + ')';
    ctx.font = mainFont;
    var wHead = ctx.measureText(head).width;
    var wTail = ctx.measureText(tail).width;
    ctx.font = subFont;
    var wSub = ctx.measureText(opts.sub).width;
    var x = opts.xTitleX - (wHead + wSub + wTail) / 2;
    ctx.textAlign = 'left';
    ctx.font = mainFont;
    ctx.fillText(head, x, opts.xTitleY);
    ctx.font = subFont;
    ctx.fillText(opts.sub, x + wHead, opts.xTitleY + TITLE_SIZE * 0.27);
    ctx.font = mainFont;
    ctx.fillText(tail, x + wHead + wSub, opts.xTitleY);
    ctx.restore();
  }
};

panels.forEach(function(p) {
  var canvas = document.getElementById(p.id);
  var left = p.box.l - Y_AXIS_W;
  var top = p.box.t - PAD_TOP;
  var width = (p.box.r - p.box.l) + Y_AXIS_W + PAD_RIGHT;
  var height = (p.box.b - p.box.t) + PAD_TOP + X_AXIS_H;
  canvas.width = width;
  canvas.height = height;
  canvas.style.left = left + 'px';
  canvas.style.top = top + 'px';
  canvas.style.width = width + 'px';
  canvas.style.height = height + 'px';

  new Chart(canvas, {
    type: 'scatter',
    data: {
      datasets: [{
        data: p.points.map(function(pt) { return { x: pt[0], y: pt[1] }; }),
        backgroundColor: '#000',
        borderColor: '#000',
        borderWidth: 0,
        pointRadius: 11,
        pointHoverRadius: 11,
        clip: false
      }]
    },
    options: {
      responsive: false,
      animation: false,
      devicePixelRatio: 1,
      events: [],
      layout: { padding: { top: PAD_TOP, right: PAD_RIGHT, left: 0, bottom: 0 } },
      plugins: {
        legend: { display: false },
        tooltip: { enabled: false },
        panelTitles: {
          source: p.source,
          sub: p.sub,
          yTitleX: p.yTitleX - left,
          xTitleX: p.xTitleX - left,
          xTitleY: p.xTitleY - top
        }
      },
      scales: {
        x: {
          type: 'linear',
          min: p.xTicks[0],
          max: p.xTicks[p.xTicks.length - 1],
          grid: { display: false, drawTicks: false },
          border: { display: false },
          afterBuildTicks: function(scale) {
            scale.ticks = p.xTicks.map(function(v) { return { value: v }; });
          },
          afterFit: function(scale) { scale.height = X_AXIS_H; },
          ticks: {
            autoSkip: false,
            maxRotation: 0,
            padding: 18,
            color: '#000',
            font: { family: FONT, size: TICK_SIZE },
            callback: function(value, index) { return p.xLabels[index]; }
          }
        },
        y: {
          type: 'linear',
          min: yTicks[0],
          max: yTicks[yTicks.length - 1],
          grid: { display: false, drawTicks: false },
          border: { display: false },
          afterBuildTicks: function(scale) {
            scale.ticks = yTicks.map(function(v) { return { value: v }; });
          },
          afterFit: function(scale) { scale.width = Y_AXIS_W; },
          ticks: {
            autoSkip: false,
            padding: 24,
            color: '#000',
            font: { family: FONT, size: TICK_SIZE },
            callback: function(value, index) { return yTickLabels[index]; }
          }
        }
      }
    },
    plugins: [framePlugin, titlePlugin]
  });
});
</script>
</body>
</html>
